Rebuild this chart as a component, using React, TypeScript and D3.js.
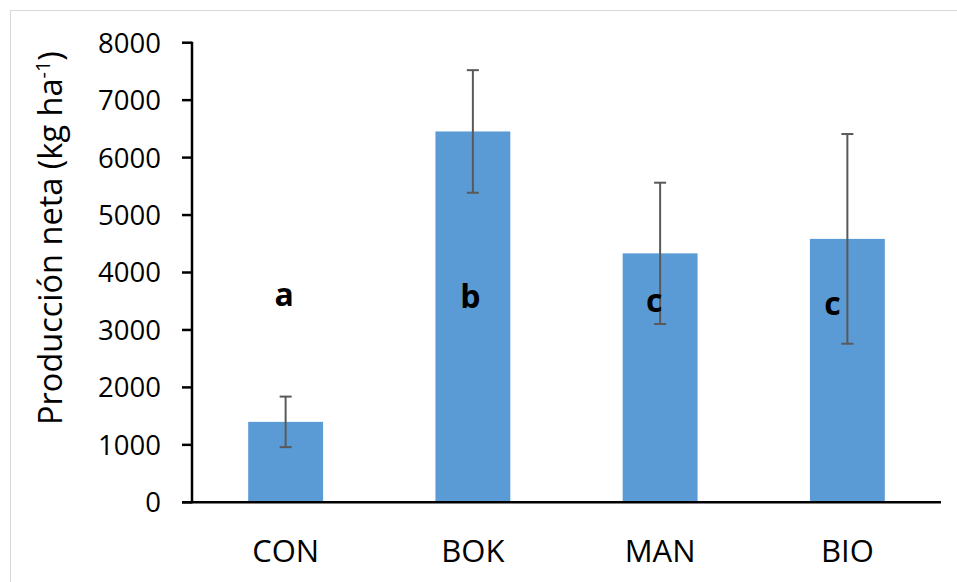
import React from "react";
import * as d3 from "d3";

const categories = ["CON", "BOK", "MAN", "BIO"];
const means = [1400, 6455, 4333, 4585];
const errors = [440, 1067, 1230, 1825];
const letters = ["a", "b", "c", "c"];
const letterValues = [3417, 3382, 3318, 3265];
const letterDx = [-1.5, -2.5, -6, -15];
const yTicks = [0, 1000, 2000, 3000, 4000, 5000, 6000, 7000, 8000];

const W = 957;
const H = 582;
const left = 192;
const right = 941;
const top = 42.7;
const bottom = 502.3;
const font = "'Open Sans', sans-serif";

export default function App() {
  const x = d3.scaleBand<string>().domain(categories).range([left, right]).paddingInner(0.6).paddingOuter(0.3);
  const y = d3.scaleLinear().domain([0, 8000]).range([bottom, top]);
  const cx = (c: string) => (x(c) as number) + x.bandwidth() / 2;

  return (
    <svg width={W} height={H} style={{ position: "absolute", left: 0, top: 0, background: "#fff" }}>
      <rect x={10.5} y={10.5} width={980} height={620} fill="#fff" stroke="#d9d9d9" strokeWidth={1} />
      {categories.map((c, i) => (
        <rect key={c} x={x(c)} y={y(means[i])} width={x.bandwidth()} height={y(0) - y(means[i])} fill="#5b9bd5" />
      ))}
      {categories.map((c, i) => {
        const X = cx(c);
        const y1 = y(means[i] + errors[i]);
        const y2 = y(means[i] - errors[i]);
        return (
          <g key={"e" + c} stroke="#595959" strokeWidth={2}>
            <line x1={X} x2={X} y1={y1} y2={y2} />
            <line x1={X - 6} x2={X + 6} y1={y1} y2={y1} />
            <line x1={X - 6} x2={X + 6} y1={y2} y2={y2} />
          </g>
        );
      })}
      {letters.map((l, i) => (
        <text key={"l" + i} x={cx(categories[i]) + letterDx[i]} y={y(letterValues[i])} textAnchor="middle"
          fontFamily={font} fontWeight="bold" fontSize={32} fill="#000">{l}</text>
      ))}
      <line x1={left} x2={left} y1={top - 1} y2={bottom + 1} stroke="#000" strokeWidth={2.5} />
      <line x1={left - 10} x2={right} y1={bottom} y2={bottom} stroke="#000" strokeWidth={2.5} />
      {yTicks.map((t) => (
        <g key={"t" + t}>
          <line x1={left - 10} x2={left} y1={y(t)} y2={y(t)} stroke="#000" strokeWidth={2.5} />
          <text x={left - 31} y={y(t)} dy="0.36em" textAnchor="end" fontFamily={font} fontSize={27.5} fill="#000">{t}</text>
        </g>
      ))}
      {categories.map((c) => (
        <text key={"c" + c} x={cx(c)} y={561.5} textAnchor="middle" fontFamily={font} fontSize={31} fill="#000">{c}</text>
      ))}
      <text transform={`translate(62,238) rotate(-90)`} textAnchor="middle" fontFamily={font} fontSize={32.5} fill="#000">
        Producción neta (kg ha<tspan dy={-12} fontSize={20}>-1</tspan><tspan dy={12}>)</tspan>
      </text>
    </svg>
  );
}
